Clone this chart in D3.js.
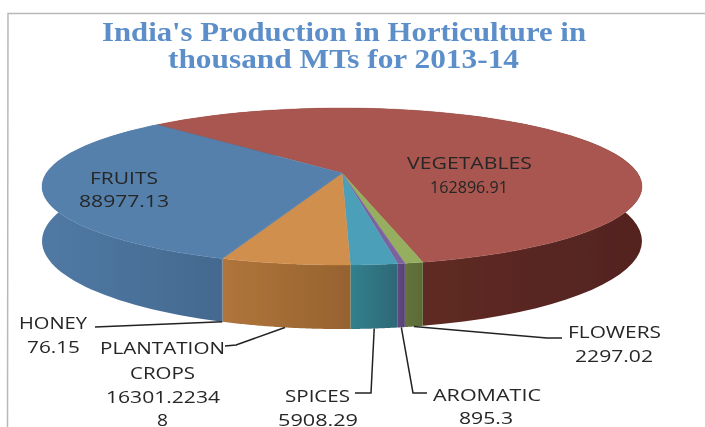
<!DOCTYPE html>
<html><head><meta charset="utf-8">
<script src="https://cdn.jsdelivr.net/npm/d3@7"></script>
<style>html,body{margin:0;padding:0;background:#fff}svg{display:block}</style>
</head><body><svg id="c" width="705" height="427"></svg>
<script>
const categories = ["VEGETABLES","FLOWERS","AROMATIC","SPICES","PLANTATION CROPS","HONEY","FRUITS"];
const values = [162896.91,2297.02,895.3,5908.29,16301.22348,76.15,88977.13];
const topColors = ["#a8564f","#96ae5e","#7d62a0","#4b9fb8","#d08f4d","#4f7ba6","#5580ab"];
const wallStart = ["#6e332b","#64743c","#5f4880","#30808f","#b0743c","#44688e","#5079a4"];
const wallEnd = ["#53231f","#5c6a38","#574274","#2f6876","#96632f","#44688e","#44698f"];
const titleLines = ["India's Production in Horticulture in","thousand MTs for 2013-14"];
const labelLines = [
 ["VEGETABLES","162896.91"],["FLOWERS","2297.02"],["AROMATIC","895.3"],["SPICES","5908.29"],
 ["PLANTATION","CROPS","16301.2234","8"],["HONEY","76.15"],["FRUITS","88977.13"]];

// label layout: [x, baseline, width] per line
const labelBoxes = [
 [[407,169,125],[430,193,78]],
 [[568,338,93],[575,362,78]],
 [[433,401,108],[459,424,54]],
 [[285,402,65],[278,426,80]],
 [[100,354,125],[130,379,65],[106,403,114],[157,426,11]],
 [[19,329,68],[27,353,53]],
 [[90,184,68],[79,207,90]]];
const titleBoxes = [[102,41,484],[168,68,351]];
// leader: elbow then end, starting at the slice's lower rim; null = inside label
const leaders = [null,[[547,338],[562,338]],[[413,393],[427,393]],[[371,393],[355,393]],[[236,345],[225,346]],[[95,327]],null];

const svg = d3.select("#c");
const root = svg.append("g");
const defs = svg.append("defs");
const f = defs.append("filter").attr("id","soft").attr("x","-5%").attr("y","-5%").attr("width","110%").attr("height","110%");
f.append("feGaussianBlur").attr("stdDeviation",0.55);
root.attr("filter","url(#soft)");

root.append("path").attr("d","M7.5,427L8,13.5L705,13.5").attr("fill","none").attr("stroke","#b8b8b8").attr("stroke-width",1.5);

// perspective projection of the pie's disc
const cx=342, cy=173, a=295.5, b=76.2, k=0.172, depth=53;
const proj=(t,lift=0)=>{const u=Math.sin(t),v=-Math.cos(t),w=1-k*v;return [cx+a*u/w, cy+b*v/w+lift/w];};
const rad=d3.scaleLinear().domain([0,180]).range([0,Math.PI]);
const pie=d3.pie().value(d=>d).sort(null).startAngle(rad(-44.6)).endAngle(rad(-44.6)+2*Math.PI);
const arcs=pie(values);
const line=d3.line();
const rim=(s,e,lift)=>d3.range(0,61).map(i=>proj(s+(e-s)*i/60,lift));

// walls
arcs.forEach((d,i)=>{
  const top=rim(d.startAngle,d.endAngle,0), bot=rim(d.startAngle,d.endAngle,depth).reverse();
  const xs=top.map(p=>p[0]);
  // gradient runs from the slice's lit edge to the darker edge, left to right in screen x
  const g=defs.append("linearGradient").attr("id","w"+i).attr("gradientUnits","userSpaceOnUse")
    .attr("x1",d3.min(xs)).attr("x2",d3.max(xs)).attr("y1",0).attr("y2",0);
  g.append("stop").attr("offset",0).attr("stop-color",wallStart[i]);
  g.append("stop").attr("offset",1).attr("stop-color",wallEnd[i]);
  root.append("path").attr("d",line(top.concat(bot))+"Z").attr("fill",`url(#w${i})`);
});
// top faces
arcs.forEach((d,i)=>{
  const pts=[[cx,cy]].concat(rim(d.startAngle,d.endAngle,0));
  root.append("path").attr("d",line(pts)+"Z").attr("fill",topColors[i]).attr("stroke",topColors[i]).attr("stroke-width",0.4);
});
// leaders
arcs.forEach((d,i)=>{
  if(!leaders[i])return;
  const pts=[proj((d.startAngle+d.endAngle)/2,depth)].concat(leaders[i]);
  root.append("path").attr("d",line(pts)).attr("fill","none").attr("stroke","#222").attr("stroke-width",1.5);
});
// labels
labelLines.forEach((ls,i)=>ls.forEach((t,j)=>{
  const [x,y,w]=labelBoxes[i][j];
  root.append("text").attr("x",x).attr("y",y).attr("textLength",w).attr("lengthAdjust","spacingAndGlyphs")
    .attr("font-family","'Open Sans',sans-serif").attr("font-size",17).attr("fill","#262626").text(t);
}));
titleLines.forEach((t,j)=>{
  const [x,y,w]=titleBoxes[j];
  root.append("text").attr("x",x).attr("y",y).attr("textLength",w).attr("lengthAdjust","spacingAndGlyphs")
    .attr("font-family","'Liberation Serif',serif").attr("font-weight","bold").attr("font-size",27).attr("fill","#5b8ec9").text(t);
});
</script></body></html>
